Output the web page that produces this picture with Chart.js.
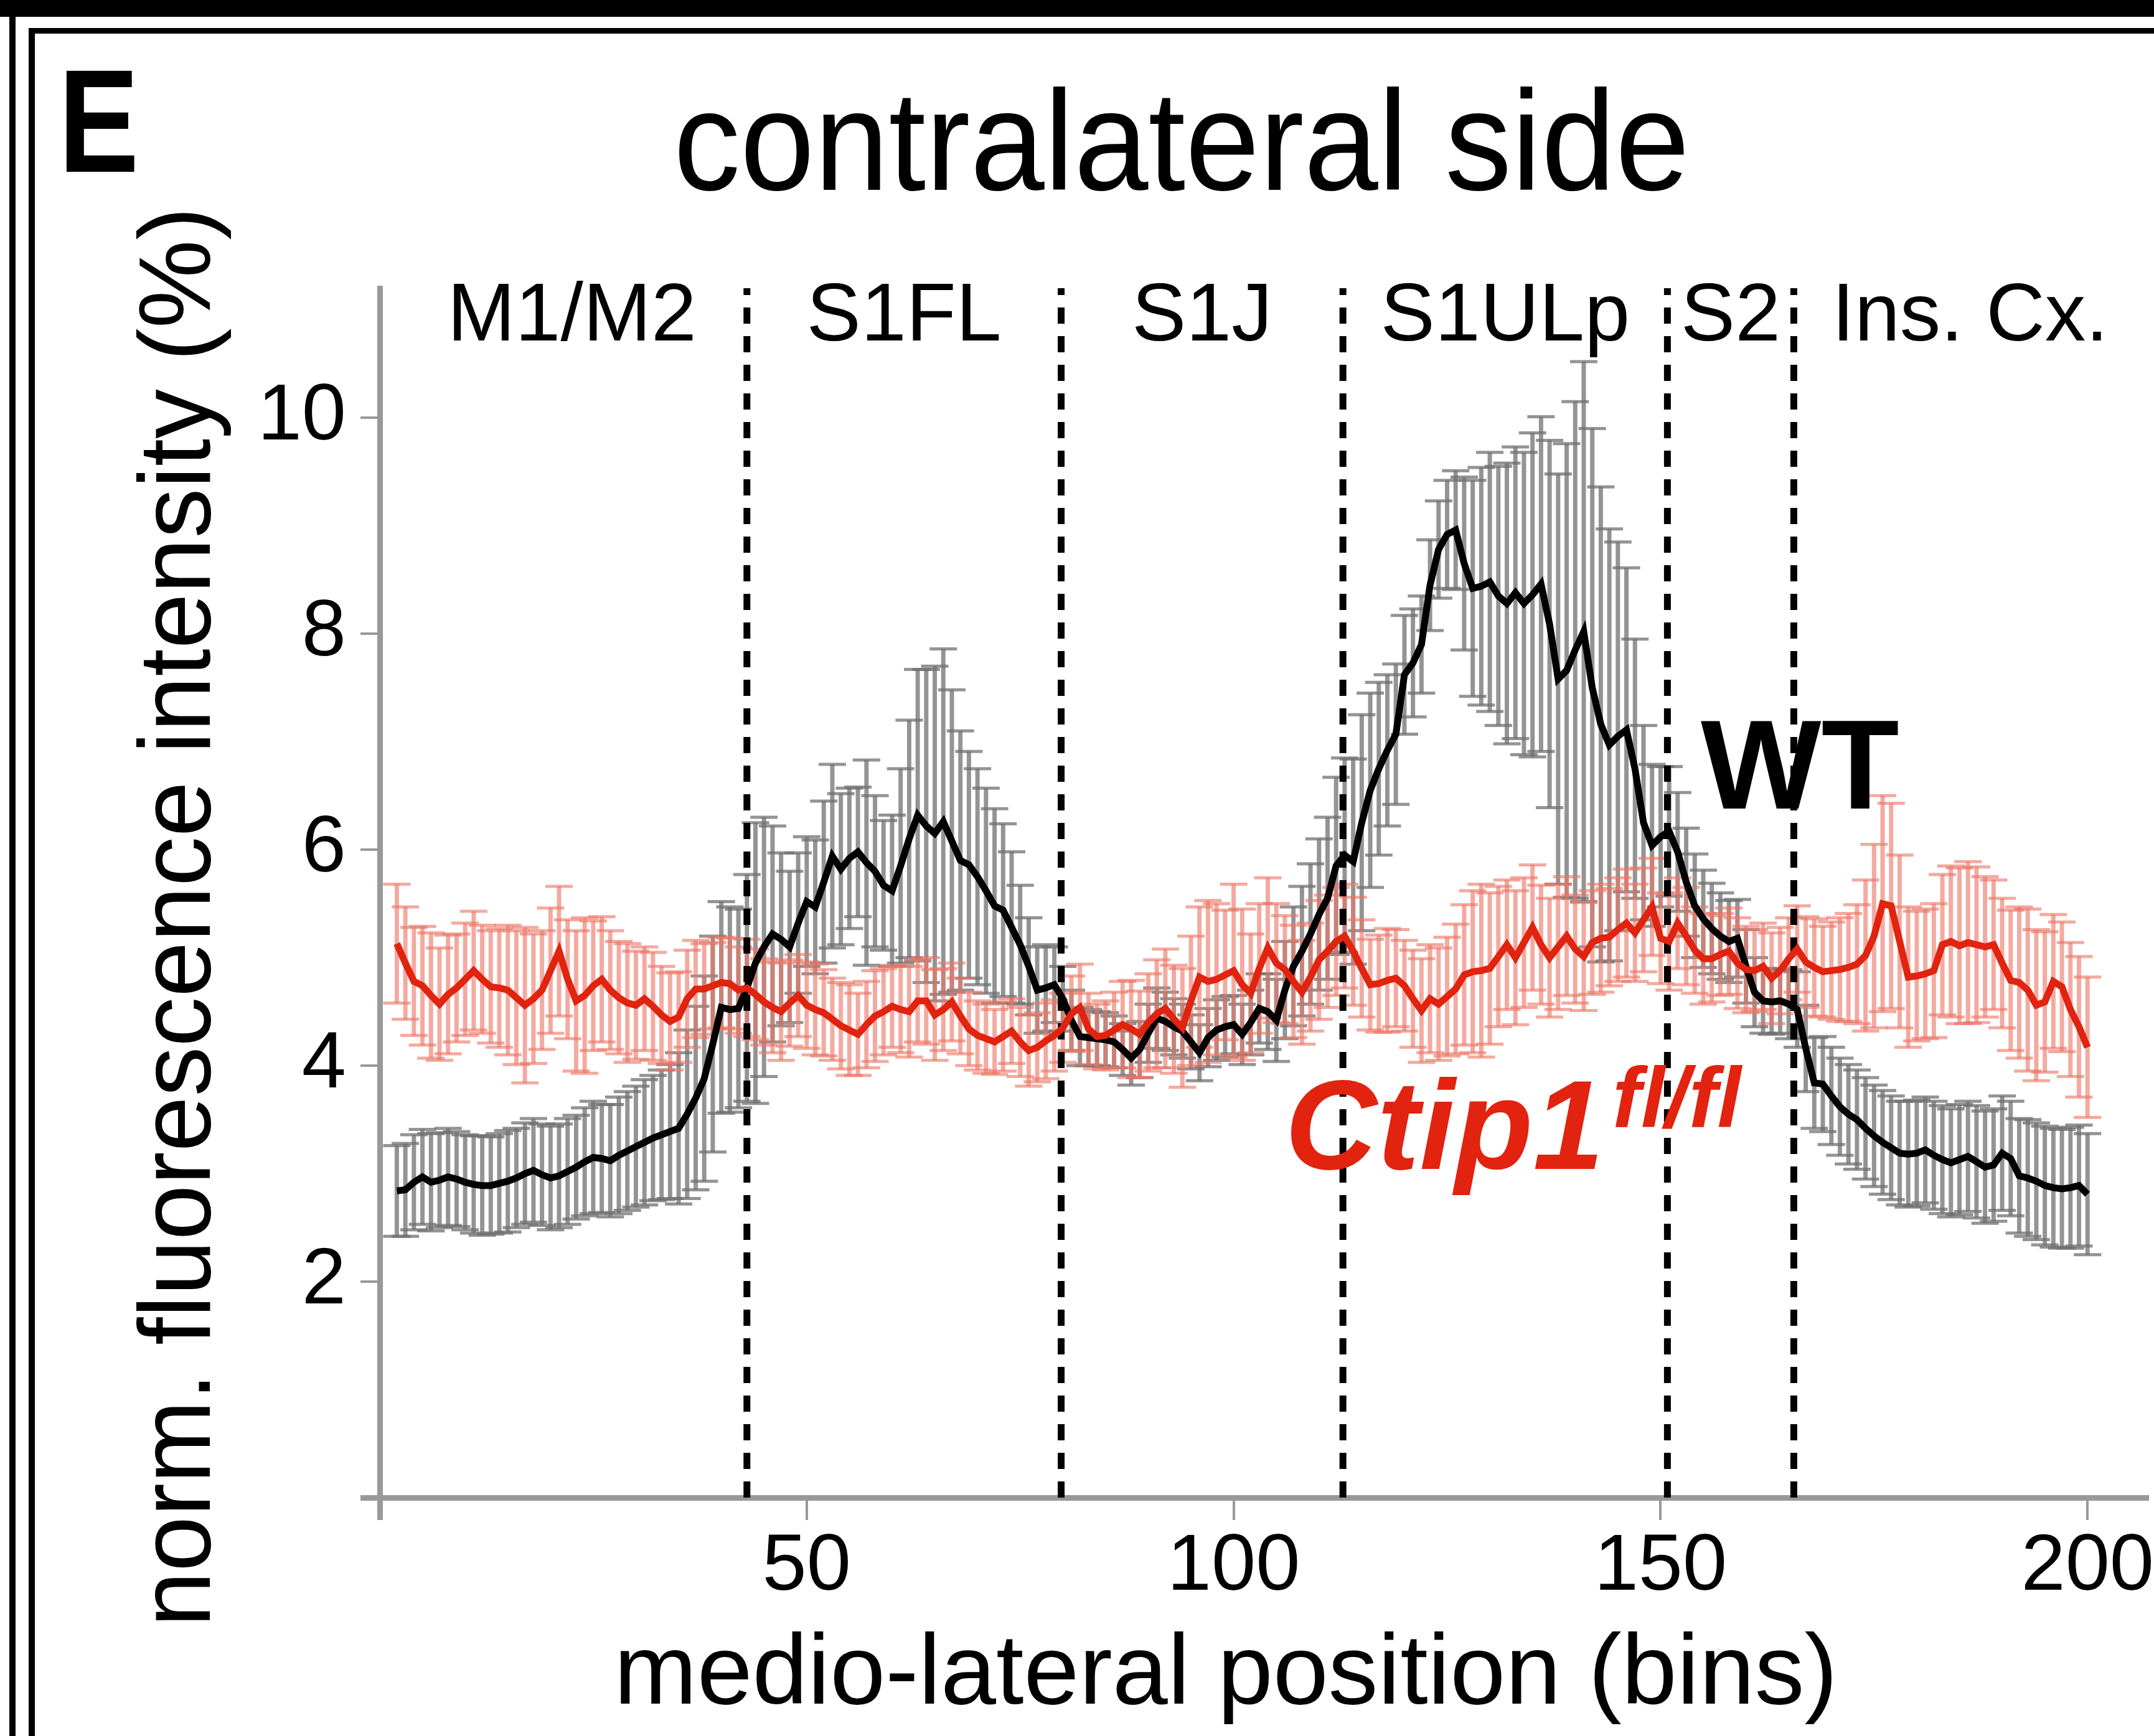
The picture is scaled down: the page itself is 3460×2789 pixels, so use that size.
<!DOCTYPE html>
<html>
<head>
<meta charset="utf-8">
<script src="https://cdn.jsdelivr.net/npm/chart.js@4.4.1/dist/chart.umd.min.js"></script>
<style>
  html, body { margin: 0; padding: 0; background: #fff; }
  canvas { display: block; }
</style>
</head>
<body>
<canvas id="chart" width="3460" height="2789"></canvas>
<script>
// --- Data ---
const firstBin = 2;

const wtMean = [
    2.84, 2.85, 2.92, 2.97, 2.92, 2.94, 2.97, 2.95, 2.92,
    2.90, 2.89, 2.89, 2.91, 2.93, 2.96, 3.00, 3.03, 2.99, 2.96,
    2.98, 3.02, 3.06, 3.11, 3.15, 3.14, 3.12, 3.17, 3.21, 3.25,
    3.29, 3.33, 3.36, 3.39, 3.42, 3.55, 3.70, 3.88, 4.20, 4.54,
    4.52, 4.53, 4.72, 4.95, 5.10, 5.22, 5.17, 5.10, 5.32, 5.52,
    5.47, 5.70, 5.94, 5.82, 5.92, 5.98, 5.88, 5.80, 5.67, 5.62,
    5.85, 6.10, 6.32, 6.22, 6.15, 6.26, 6.08, 5.90, 5.86, 5.75,
    5.62, 5.48, 5.44, 5.28, 5.12, 4.92, 4.70, 4.72, 4.75, 4.62,
    4.42, 4.27, 4.26, 4.25, 4.24, 4.22, 4.15, 4.07, 4.15, 4.30,
    4.44, 4.41, 4.36, 4.32, 4.22, 4.12, 4.26, 4.33, 4.36, 4.38,
    4.29, 4.40, 4.53, 4.50, 4.42, 4.70, 4.92, 5.06, 5.22, 5.40,
    5.55, 5.85, 5.95, 5.89, 6.25, 6.55, 6.75, 6.92, 7.07, 7.62,
    7.73, 7.90, 8.45, 8.78, 8.92, 8.96, 8.65, 8.42, 8.44, 8.48,
    8.35, 8.28, 8.38, 8.28, 8.36, 8.46, 8.09, 7.58, 7.66, 7.85,
    8.02, 7.50, 7.16, 6.97, 7.05, 7.11, 6.75, 6.25, 6.04, 6.12,
    6.17, 5.98, 5.70, 5.48, 5.36, 5.27, 5.20, 5.15, 5.18, 4.92,
    4.68, 4.60, 4.59, 4.60, 4.57, 4.52, 4.16, 3.84, 3.83, 3.72,
    3.62, 3.55, 3.50, 3.42, 3.35, 3.29, 3.24, 3.19, 3.18, 3.19,
    3.22, 3.17, 3.13, 3.10, 3.13, 3.16, 3.11, 3.06, 3.08, 3.19,
    3.14, 2.98, 2.96, 2.93, 2.89, 2.87, 2.86, 2.87, 2.89, 2.81
];

const wtErr = [
    0.42, 0.43, 0.44, 0.44, 0.45, 0.44, 0.45, 0.44, 0.44,
    0.45, 0.46, 0.45, 0.46, 0.47, 0.46, 0.47, 0.48, 0.47, 0.48,
    0.48, 0.49, 0.48, 0.50, 0.52, 0.50, 0.52, 0.54, 0.55, 0.56,
    0.58, 0.58, 0.60, 0.62, 0.70, 0.78, 0.85, 0.95, 1.00, 0.98,
    0.95, 0.92, 1.05, 1.30, 1.20, 1.00, 0.80, 0.70, 0.65, 0.60,
    0.62, 0.75, 0.85, 0.70, 0.65, 0.60, 0.95, 0.70, 0.60, 0.70,
    0.90, 1.10, 1.35, 1.45, 1.55, 1.60, 1.40, 1.20, 1.05, 1.00,
    0.95, 0.90, 0.80, 0.70, 0.55, 0.45, 0.40, 0.40, 0.35, 0.30,
    0.28, 0.27, 0.26, 0.25, 0.25, 0.24, 0.24, 0.25, 0.26, 0.27,
    0.28, 0.27, 0.26, 0.25, 0.25, 0.26, 0.27, 0.28, 0.28, 0.27,
    0.28, 0.30, 0.32, 0.35, 0.38, 0.45, 0.55, 0.60, 0.65, 0.70,
    0.75, 0.82, 0.90, 0.95, 1.00, 0.90, 0.80, 0.70, 0.65, 0.55,
    0.50, 0.45, 0.42, 0.45, 0.50, 0.55, 0.80, 1.00, 1.10, 1.20,
    1.20, 1.30, 1.35, 1.40, 1.50, 1.55, 1.70, 1.90, 2.10, 2.30,
    2.50, 2.40, 2.20, 2.00, 1.80, 1.50, 1.20, 0.90, 0.75, 0.65,
    0.60, 0.55, 0.50, 0.48, 0.45, 0.42, 0.40, 0.38, 0.36, 0.34,
    0.32, 0.30, 0.30, 0.30, 0.32, 0.35, 0.40, 0.42, 0.44, 0.45,
    0.45, 0.46, 0.46, 0.47, 0.47, 0.48, 0.48, 0.48, 0.49, 0.49,
    0.49, 0.50, 0.50, 0.50, 0.51, 0.51, 0.52, 0.52, 0.52, 0.53,
    0.53, 0.53, 0.54, 0.54, 0.55, 0.55, 0.55, 0.56, 0.56, 0.56
];

const koMean = [
    5.13, 4.95, 4.78, 4.74, 4.65, 4.57, 4.66, 4.72, 4.80,
    4.88, 4.80, 4.73, 4.72, 4.70, 4.63, 4.56, 4.62, 4.70, 4.88,
    5.06, 4.80, 4.60, 4.65, 4.74, 4.80, 4.70, 4.63, 4.58, 4.56,
    4.62, 4.55, 4.47, 4.41, 4.45, 4.62, 4.71, 4.71, 4.74, 4.77,
    4.76, 4.70, 4.72, 4.66, 4.59, 4.54, 4.50, 4.58, 4.65, 4.56,
    4.52, 4.49, 4.43, 4.37, 4.33, 4.29, 4.38, 4.46, 4.50, 4.55,
    4.52, 4.50, 4.60, 4.60, 4.47, 4.52, 4.59, 4.46, 4.34, 4.28,
    4.25, 4.22, 4.27, 4.32, 4.22, 4.14, 4.17, 4.23, 4.28, 4.35,
    4.48, 4.54, 4.34, 4.27, 4.28, 4.33, 4.38, 4.34, 4.29, 4.40,
    4.48, 4.53, 4.43, 4.35, 4.60, 4.82, 4.78, 4.80, 4.84, 4.88,
    4.75, 4.67, 4.90, 5.09, 4.95, 4.89, 4.78, 4.68, 4.82, 4.98,
    5.06, 5.15, 5.20, 5.06, 4.90, 4.75, 4.76, 4.79, 4.81, 4.74,
    4.62, 4.51, 4.62, 4.57, 4.64, 4.71, 4.84, 4.87, 4.88, 4.90,
    5.01, 5.12, 5.00, 5.14, 5.28, 5.12, 5.00, 5.10, 5.20, 5.08,
    5.01, 5.14, 5.18, 5.19, 5.26, 5.32, 5.23, 5.35, 5.47, 5.18,
    5.15, 5.32, 5.20, 5.07, 4.99, 4.99, 5.03, 5.06, 4.95, 4.89,
    4.88, 4.92, 4.81, 4.88, 4.99, 5.08, 4.96, 4.91, 4.87, 4.88,
    4.89, 4.91, 4.94, 5.02, 5.20, 5.50, 5.48, 5.15, 4.82, 4.83,
    4.85, 4.88, 5.12, 5.15, 5.11, 5.14, 5.12, 5.10, 5.12, 4.95,
    4.79, 4.77, 4.70, 4.56, 4.59, 4.78, 4.73, 4.52, 4.36, 4.17
];

const koErr = [
    0.55, 0.52, 0.50, 0.55, 0.58, 0.52, 0.55, 0.50, 0.52,
    0.55, 0.50, 0.52, 0.55, 0.60, 0.62, 0.72, 0.60, 0.55, 0.58,
    0.60, 0.55, 0.65, 0.72, 0.60, 0.58, 0.55, 0.52, 0.55, 0.50,
    0.48, 0.50, 0.45, 0.45, 0.42, 0.45, 0.45, 0.42, 0.40, 0.42,
    0.42, 0.40, 0.45, 0.42, 0.40, 0.42, 0.45, 0.40, 0.38, 0.40,
    0.42, 0.40, 0.38, 0.40, 0.42, 0.38, 0.40, 0.42, 0.40, 0.38,
    0.40, 0.42, 0.38, 0.40, 0.42, 0.38, 0.36, 0.35, 0.34, 0.32,
    0.32, 0.30, 0.32, 0.30, 0.32, 0.33, 0.32, 0.35, 0.33, 0.32,
    0.35, 0.40, 0.33, 0.30, 0.32, 0.35, 0.40, 0.45, 0.40, 0.45,
    0.50, 0.55, 0.50, 0.55, 0.60, 0.65, 0.75, 0.70, 0.60, 0.80,
    0.70, 0.55, 0.60, 0.65, 0.55, 0.50, 0.52, 0.48, 0.50, 0.55,
    0.52, 0.50, 0.48, 0.50, 0.45, 0.42, 0.45, 0.48, 0.45, 0.42,
    0.45, 0.48, 0.50, 0.52, 0.55, 0.60, 0.65, 0.75, 0.80, 0.70,
    0.65, 0.60, 0.62, 0.60, 0.58, 0.55, 0.55, 0.58, 0.55, 0.50,
    0.50, 0.48, 0.50, 0.45, 0.48, 0.50, 0.45, 0.48, 0.45, 0.42,
    0.45, 0.42, 0.45, 0.40, 0.42, 0.40, 0.38, 0.40, 0.42, 0.40,
    0.38, 0.40, 0.42, 0.40, 0.38, 0.40, 0.42, 0.45, 0.42, 0.45,
    0.48, 0.50, 0.55, 0.70, 0.85, 1.00, 0.95, 0.80, 0.65, 0.60,
    0.60, 0.62, 0.65, 0.70, 0.72, 0.75, 0.72, 0.65, 0.60, 0.60,
    0.65, 0.70, 0.75, 0.70, 0.65, 0.62, 0.60, 0.62, 0.65, 0.65
];

// area borders (bins) and their names
const dividers = [43, 79.8, 112.8, 150.8, 165.6];
const regions = ['M1/M2', 'S1FL', 'S1J', 'S1ULp', 'S2', 'Ins. Cx.'];

const xTicks = [0, 50, 100, 150, 200];
const yTicks = [0, 2, 4, 6, 8, 10];
const xMax = 206.9;
const yMax = 11.2;

// --- Build datasets ---
const toPoints = arr => arr.map((v, i) => ({ x: firstBin + i, y: v }));

const FONT = "'Liberation Sans', Arial, Helvetica, sans-serif";
const RED = '#e1230f';

const dividerSets = dividers.map(d => ({
    data: [{ x: d, y: 0 }, { x: d, y: yMax }],
    borderColor: '#000',
    borderWidth: 11,
    borderDash: [26, 20],
    pointRadius: 0
}));

// error bars under everything
const errorBars = {
    id: 'errorBars',
    beforeDatasetsDraw(chart) {
        const { ctx, scales: { x, y } } = chart;
        const series = [
            { mean: wtMean, err: wtErr, color: 'rgba(112,112,112,0.75)' },
            { mean: koMean, err: koErr, color: 'rgba(236,118,102,0.62)' }
        ];
        ctx.save();
        series.forEach(s => {
            ctx.strokeStyle = s.color;
            ctx.lineWidth = 7;
            s.mean.forEach((m, i) => {
                const px = x.getPixelForValue(firstBin + i);
                const top = y.getPixelForValue(m + s.err[i]);
                const bot = y.getPixelForValue(m - s.err[i]);
                ctx.beginPath();
                ctx.moveTo(px, top); ctx.lineTo(px, bot);
                ctx.stroke();
                ctx.lineWidth = 5;
                ctx.beginPath();
                ctx.moveTo(px - 22, top); ctx.lineTo(px + 22, top);
                ctx.moveTo(px - 22, bot); ctx.lineTo(px + 22, bot);
                ctx.stroke();
                ctx.lineWidth = 7;
            });
        });
        ctx.restore();
    }
};

function text(ctx, str, x, y, font, color, align, sx) {
    ctx.save();
    ctx.font = font;
    ctx.fillStyle = color;
    ctx.textAlign = align;
    ctx.textBaseline = 'alphabetic';
    ctx.translate(x, y);
    ctx.scale(sx, 1);
    ctx.fillText(str, 0, 0);
    ctx.restore();
}

// labels, titles and the panel frame
const decorations = {
    id: 'decorations',
    afterDraw(chart) {
        const { ctx, scales: { x } } = chart;

        // panel frame
        ctx.save();
        ctx.fillStyle = '#000';
        ctx.fillRect(0, 0, 3460, 27);
        ctx.fillRect(46, 45, 3414, 9);
        ctx.fillRect(15, 0, 10, 2789);
        ctx.fillRect(46, 45, 10, 2744);
        ctx.restore();

        text(ctx, 'E', 94, 276, `bold 236px ${FONT}`, '#000', 'left', 0.82);
        text(ctx, 'contralateral side', 1898, 305, `228px ${FONT}`, '#000', 'center', 0.94);

        // y title
        ctx.save();
        ctx.translate(337, 1473);
        ctx.rotate(-Math.PI / 2);
        text(ctx, 'norm. fluorescence intensity (%)', 0, 0, `163px ${FONT}`, '#000', 'center', 0.98);
        ctx.restore();

        text(ctx, 'medio-lateral position (bins)', 1969, 2737, `160px ${FONT}`, '#000', 'center', 1);

        // area names centred between borders
        const edges = [firstBin, ...dividers, xMax];
        regions.forEach((r, i) => {
            const cx = x.getPixelForValue((edges[i] + edges[i + 1]) / 2);
            text(ctx, r, cx, 547, `131px ${FONT}`, '#000', 'center', 1);
        });

        text(ctx, 'WT', 2732, 1299, `bold 205px ${FONT}`, '#000', 'left', 1);
        text(ctx, 'Ctip1', 2064, 1878, `italic bold 205px ${FONT}`, RED, 'left', 1);
        text(ctx, 'fl/fl', 2590, 1811, `italic bold 138px ${FONT}`, RED, 'left', 1);
    }
};

const canvas = document.getElementById('chart');

new Chart(canvas, {
    type: 'line',
    data: {
        datasets: [
            {
                label: 'Ctip1 fl/fl',
                data: toPoints(koMean),
                borderColor: RED,
                borderWidth: 11,
                pointRadius: 0,
                tension: 0
            },
            {
                label: 'WT',
                data: toPoints(wtMean),
                borderColor: '#000',
                borderWidth: 11,
                pointRadius: 0,
                tension: 0
            },
            ...dividerSets
        ]
    },
    options: {
        responsive: false,
        animation: false,
        devicePixelRatio: 1,
        layout: { padding: { left: 0, right: 0, top: 463, bottom: 0 } },
        plugins: {
            legend: { display: false },
            tooltip: { enabled: false }
        },
        scales: {
            x: {
                type: 'linear',
                min: 0,
                max: xMax,
                afterFit: s => { s.height = 383; },
                afterBuildTicks: s => { s.ticks = xTicks.map(v => ({ value: v })); },
                ticks: {
                    callback: v => (v === 0 ? '' : v),
                    font: { family: FONT, size: 128 },
                    color: '#000',
                    padding: 0,
                    maxRotation: 0
                },
                grid: {
                    drawOnChartArea: false,
                    tickLength: 36,
                    color: '#999',
                    lineWidth: c => (c.tick && c.tick.value === 0 ? 9 : 4)
                },
                border: { color: '#999', width: 9 }
            },
            y: {
                min: 0,
                max: yMax,
                afterFit: s => { s.width = 610; },
                afterBuildTicks: s => { s.ticks = yTicks.map(v => ({ value: v })); },
                ticks: {
                    callback: v => (v === 0 ? '' : v),
                    font: { family: FONT, size: 128 },
                    color: '#000',
                    padding: 23
                },
                grid: {
                    drawOnChartArea: false,
                    tickLength: 31,
                    color: '#999',
                    lineWidth: c => (c.tick && c.tick.value === 0 ? 9 : 4)
                },
                border: { color: '#999', width: 9 }
            }
        }
    },
    plugins: [errorBars, decorations]
});
</script>
</body>
</html>
